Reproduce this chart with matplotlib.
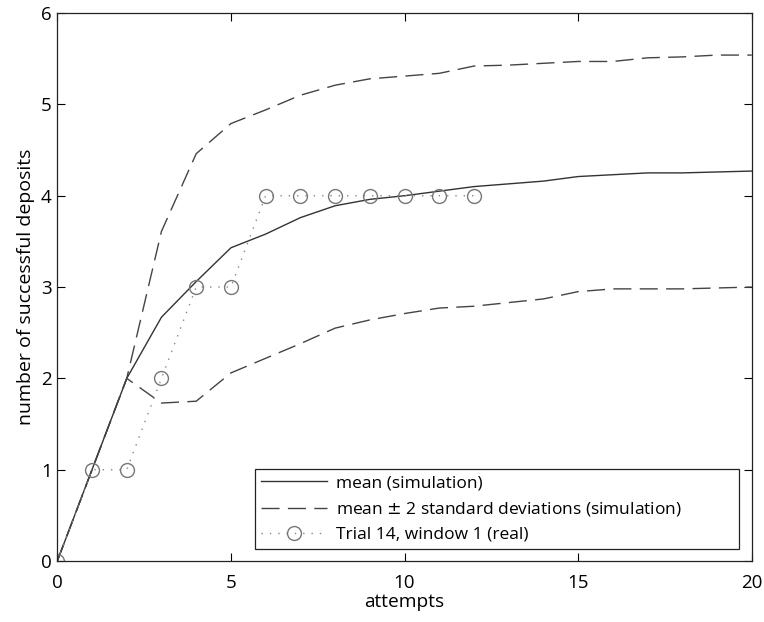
import numpy as np
import matplotlib.pyplot as plt

plt.rcParams['font.family'] = ['Open Sans', 'DejaVu Sans']

# simulation
attempts = list(range(21))
mean_sim = [0, 1.0, 2.0, 2.67, 3.06, 3.43, 3.58, 3.76, 3.89, 3.96, 4.0,
            4.05, 4.10, 4.13, 4.16, 4.21, 4.23, 4.25, 4.25, 4.26, 4.27]
upper_sim = [0, 1.0, 2.0, 3.61, 4.46, 4.79, 4.94, 5.10, 5.21, 5.28, 5.31,
             5.34, 5.42, 5.43, 5.45, 5.47, 5.47, 5.51, 5.52, 5.54, 5.54]
lower_sim = [0, 1.0, 2.0, 1.73, 1.75, 2.06, 2.22, 2.38, 2.55, 2.64, 2.71,
             2.77, 2.79, 2.83, 2.87, 2.95, 2.98, 2.98, 2.98, 2.99, 3.0]

# real trial
trial_x = list(range(13))
trial_y = [0, 1, 1, 2, 3, 3, 4, 4, 4, 4, 4, 4, 4]

fig = plt.figure(figsize=(7.64, 6.22), dpi=100)
ax = fig.add_axes([0.075, 0.098, 0.909, 0.881])

ax.plot(attempts, mean_sim, color='#333333', lw=1.0, label='mean (simulation)')
ax.plot(attempts, upper_sim, color='#444444', lw=1.0, dashes=(13, 6),
        label='mean $\\pm$ 2 standard deviations (simulation)')
ax.plot(attempts, lower_sim, color='#444444', lw=1.0, dashes=(13, 6))
ax.plot(trial_x, trial_y, color='#888888', lw=1.0, ls=(0, (1, 5)),
        marker='o', ms=10, mfc='none', mec='#777777', mew=1.0,
        label='Trial 14, window 1 (real)')

ax.set_xlim(0, 20)
ax.set_ylim(0, 6)
ax.set_xticks([0, 5, 10, 15, 20])
ax.set_yticks([0, 1, 2, 3, 4, 5, 6])
ax.tick_params(direction='in', top=True, right=True, length=6,
               labelsize=13.5, width=0.8)
ax.tick_params(axis='x', pad=9)
ax.tick_params(axis='y', pad=4)
for s in ax.spines.values():
    s.set_linewidth(0.9)
    s.set_color('#222222')

ax.set_xlabel('attempts', fontsize=13.8, labelpad=1)
ax.set_ylabel('number of successful deposits', fontsize=14, labelpad=4)

leg = ax.legend(loc='lower left', bbox_to_anchor=(0.285, 0.022, 0.696, 0.155),
                mode='expand', fontsize=12.5, fancybox=False, framealpha=1,
                edgecolor='#222222', handlelength=3.8, borderpad=0.35,
                labelspacing=0.5, handletextpad=0.5, borderaxespad=0)
leg.get_frame().set_linewidth(0.9)

fig.savefig('out.png', dpi=100)
